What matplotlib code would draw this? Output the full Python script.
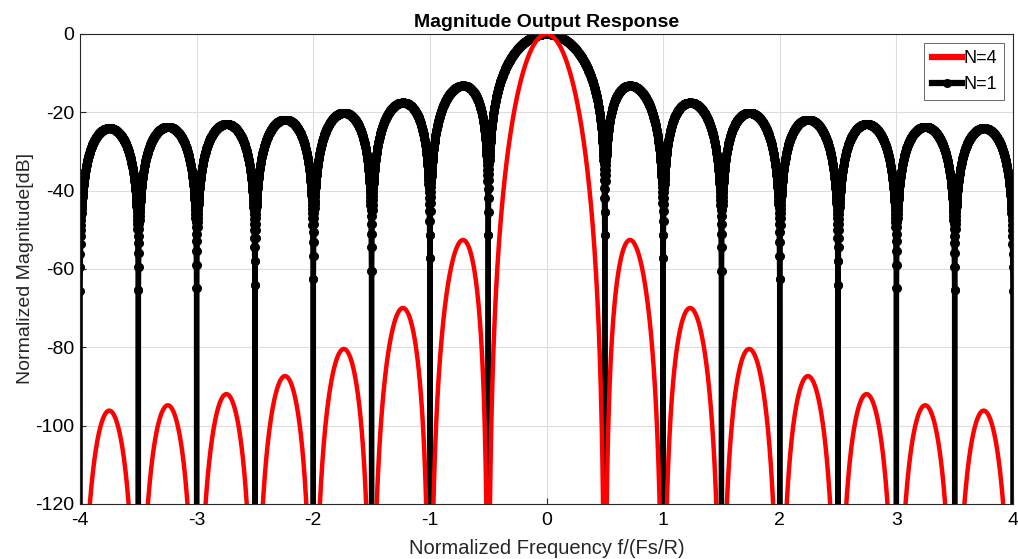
import numpy as np
import matplotlib
matplotlib.use("Agg")
import matplotlib.pyplot as plt

plt.rcParams['font.family'] = ['Liberation Sans', 'DejaVu Sans']
plt.rcParams['axes.unicode_minus'] = False

# CIC filter parameters: decimation R, differential delay M, stage orders
R = 8
M = 2
orders = [4, 1]
labels = ["N=4", "N=1"]
colors = ["#ff0000", "#000000"]

# normalized frequency axis f/(Fs/R)
f = np.linspace(-4, 4, 6001)

def cic_db(f, N):
    x = f / R
    num = np.sin(np.pi * M * R * x)
    den = R * M * np.sin(np.pi * x)
    h = np.ones_like(f)
    nz = np.abs(den) > 1e-12
    h[nz] = num[nz] / den[nz]
    return N * 20 * np.log10(np.abs(h) + 1e-15)

fig = plt.figure(figsize=(10.18, 5.59), dpi=100)
ax = fig.add_axes([0.0786, 0.0984, 0.9165, 0.8408])

ax.plot(f, cic_db(f, orders[0]), color=colors[0], lw=3.2, label=labels[0], zorder=3)
ax.plot(f, cic_db(f, orders[1]), color=colors[1], lw=3.8, marker='.', markersize=11,
        label=labels[1], zorder=2)

ax.set_xlim(-4, 4)
ax.set_ylim(-120, 0)
ax.set_xticks(np.arange(-4, 5, 1))
ax.set_yticks(np.arange(-120, 1, 20))
ax.tick_params(labelsize=14, direction='in', length=4, color='#262626')
ax.tick_params(axis='x', pad=6)
ax.tick_params(axis='y', pad=4)
ax.grid(True, color='#dcdcdc', lw=0.8)
for s in ax.spines.values():
    s.set_color('#262626')
    s.set_linewidth(0.8)

ax.set_title("Magnitude Output Response", fontsize=14, fontweight='bold', pad=5)
ax.set_xlabel("Normalized Frequency f/(Fs/R)", fontsize=14.5, color='#262626', labelpad=7)
ax.set_ylabel("Normalized Magnitude[dB]", fontsize=14, color='#262626', labelpad=1)

leg = ax.legend(loc='upper right', fontsize=13, frameon=True, fancybox=False,
                handlelength=1.7, handletextpad=0.05, borderpad=0.4,
                labelspacing=0.5, borderaxespad=0.5)
leg.get_frame().set_edgecolor('#262626')
leg.get_frame().set_linewidth(0.6)
for line in leg.get_lines():
    line.set_linewidth(4.5)

fig.savefig("out.png", dpi=100)
